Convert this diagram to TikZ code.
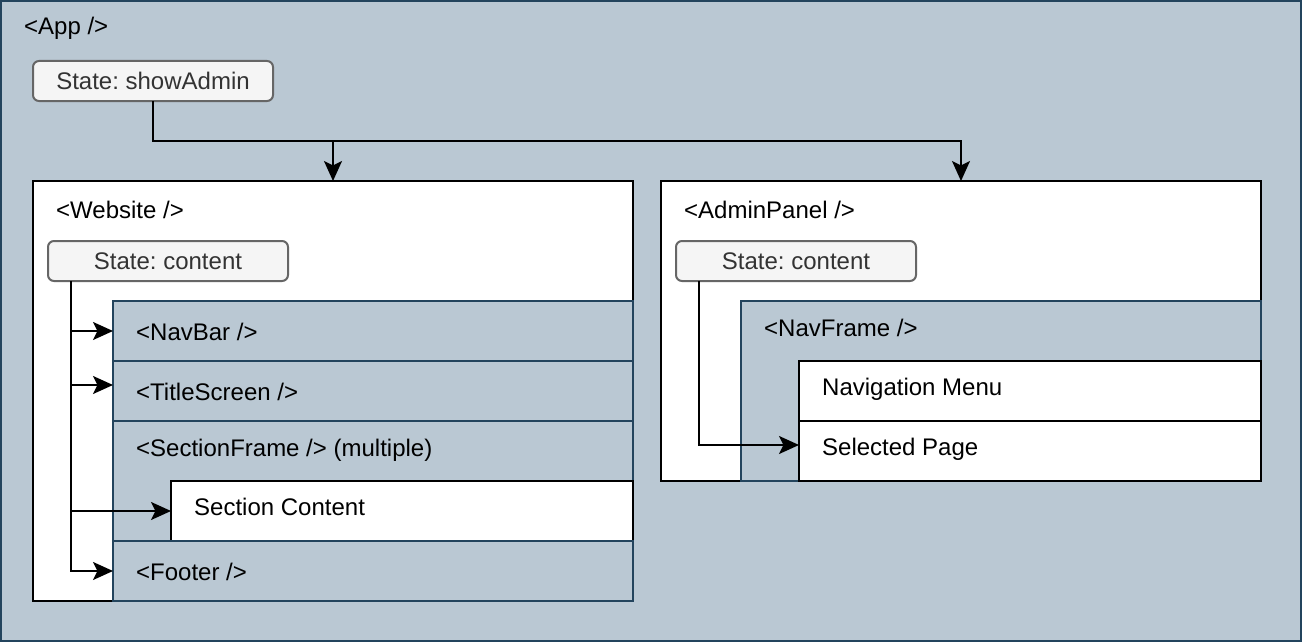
\documentclass[tikz,border=0pt]{standalone}
\usepackage{fontspec}
\setmainfont{Liberation Sans}
\usetikzlibrary{arrows.meta,calc}
\frenchspacing
\definecolor{appfill}{HTML}{BAC8D3}
\definecolor{appline}{HTML}{23445D}
\definecolor{stfill}{HTML}{F5F5F5}
\definecolor{stline}{HTML}{666666}
\definecolor{sttext}{HTML}{333333}
\tikzset{
  box/.style={draw, line width=2pt, inner sep=0pt, outer sep=0pt, anchor=north west},
  bluebox/.style={box, fill=appfill, draw=appline},
  whitebox/.style={box, fill=white, draw=black},
  statebox/.style={box, fill=stfill, draw=stline, rounded corners=6pt,
    minimum width=240pt, minimum height=40pt, text=sttext, font=\fontsize{24}{28}\selectfont},
  lbl/.style={anchor=base west, inner sep=0pt, font=\fontsize{24}{28}\selectfont},
  conn/.style={line width=2pt, -{Stealth[length=20pt,width=18pt,inset=4.5pt]}},
}
\begin{document}
\begin{tikzpicture}[x=1pt,y=-1pt]
\useasboundingbox (0,0) rectangle (1304,642);
% App
\node[bluebox, minimum width=1300pt, minimum height=640pt] (app) at (1,1) {};
\node[lbl] (applbl) at (24,35) {<App />};
\node[statebox] (sa) at (33,61) {State: showAdmin};

% Website
\node[whitebox, minimum width=600pt, minimum height=420pt] (web) at (33,181) {};
\node[lbl] (weblbl) at (56,218) {<Website />};
\node[statebox] (sc1) at (48,241) {State: content};
\node[bluebox, minimum width=520pt, minimum height=60pt] (nav) at (113,301) {};
\node[lbl] (navlbl) at (136,340) {<NavBar />};
\node[bluebox, minimum width=520pt, minimum height=60pt] (title) at (113,361) {};
\node[lbl] (titlelbl) at (136,400) {<TitleScreen />};
\node[bluebox, minimum width=520pt, minimum height=120pt] (sec) at (113,421) {};
\node[lbl] (seclbl) at (136,456) {<SectionFrame /> (multiple)};
\node[whitebox, minimum width=462pt, minimum height=60pt] (secc) at (171,481) {};
\node[lbl] (secclbl) at (194,515) {Section Content};
\node[bluebox, minimum width=520pt, minimum height=60pt] (foot) at (113,541) {};
\node[lbl] (footlbl) at (136,580) {<Footer />};

% AdminPanel
\node[whitebox, minimum width=600pt, minimum height=300pt] (adm) at (661,181) {};
\node[lbl] (admlbl) at (684,218) {<AdminPanel />};
\node[statebox] (sc2) at (676,241) {State: content};
\node[bluebox, minimum width=520pt, minimum height=180pt] (nf) at (741,301) {};
\node[lbl] (nflbl) at (764,336) {<NavFrame />};
\node[whitebox, minimum width=462pt, minimum height=60pt] (menu) at (799,361) {};
\node[lbl] (menulbl) at (822,395) {Navigation Menu};
\node[whitebox, minimum width=462pt, minimum height=60pt] (page) at (799,421) {};
\node[lbl] (pagelbl) at (822,455.5) {Selected Page};

% connectors
\coordinate (split) at ($(sa.south)+(0,40)$);
\draw[conn] (sa.south) -- (split) -| (web.north);
\draw[conn] (sa.south) -- (split) -| (adm.north);

\coordinate (s1) at ($(sc1.south west)+(23,0)$);
\draw[conn] (s1) |- (nav.west);
\draw[conn] (s1) |- ([yshift=6pt]title.west);
\draw[conn] (s1) |- (secc.west);
\draw[conn] (s1) |- (foot.west);

\coordinate (s2) at ($(sc2.south west)+(23,0)$);
\draw[conn] (s2) |- ([yshift=6pt]page.west);
\end{tikzpicture}
\end{document}
